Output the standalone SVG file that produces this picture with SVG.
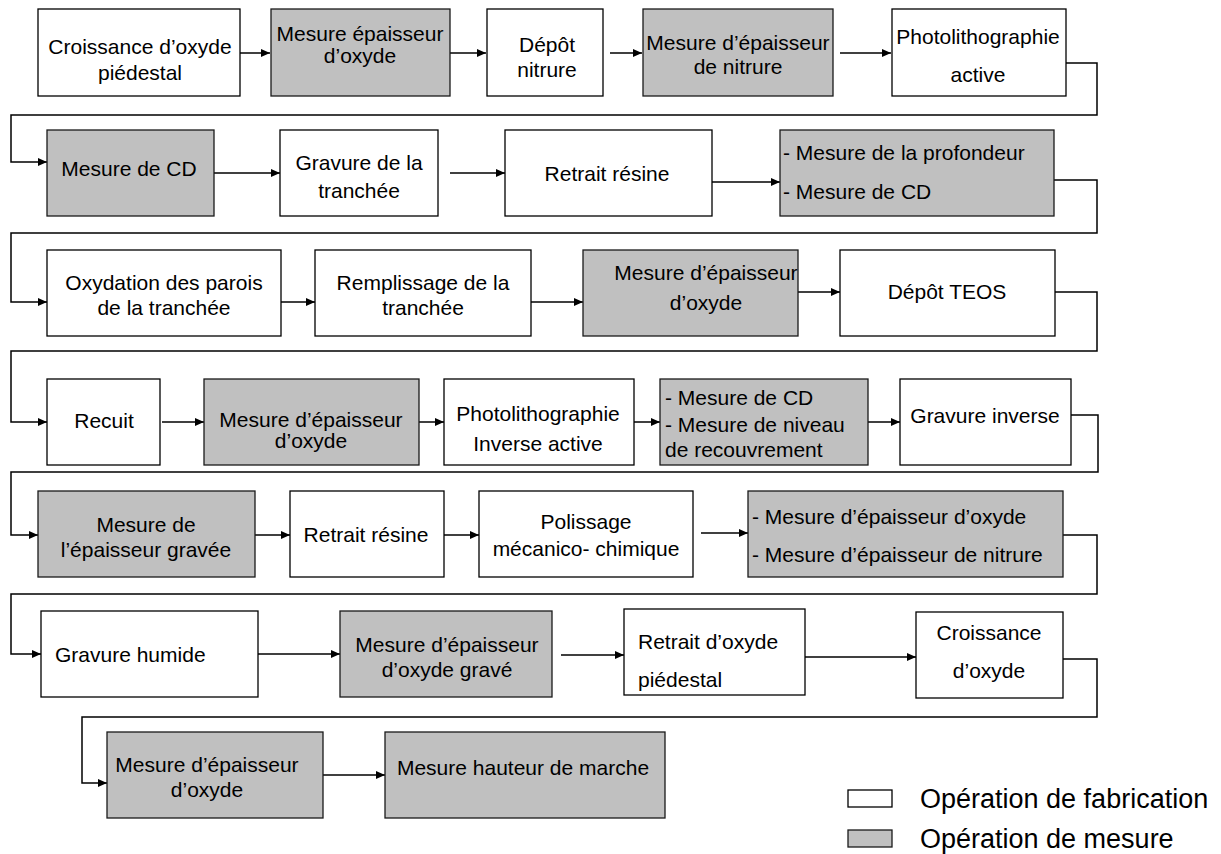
<svg xmlns="http://www.w3.org/2000/svg" width="1221" height="854" viewBox="0 0 1221 854">
  <defs>
    <style>
      .fab { fill: #ffffff; stroke: #000000; stroke-width: 1.3; }
      .mes { fill: #c0c0c0; stroke: #1a1a1a; stroke-width: 1.3; }
      text { font-family: "Liberation Sans", Arial, sans-serif; font-size: 21px; fill: #000000; }
      .c { text-anchor: middle; }
      .l { text-anchor: start; }
      .legend { font-size: 27px; }
      .link { fill: none; stroke: #000000; stroke-width: 1.5; marker-end: url(#ah); }
    </style>
    <marker id="ah" markerUnits="userSpaceOnUse" markerWidth="10" markerHeight="8" refX="9" refY="4" orient="auto">
      <path d="M0,0 L9,4 L0,8 z" fill="#000000"/>
    </marker>
  </defs>
  <rect width="1221" height="854" fill="#ffffff"/>

  <!-- connectors -->
  <g id="connectors">
    <!-- row 1 -->
    <path class="link" d="M240,53 H270"/>
    <path class="link" d="M450,53 H486"/>
    <path class="link" d="M610,53 H642"/>
    <path class="link" d="M840,53 H891"/>
    <path class="link" d="M1066,63 H1097 V115 H11 V162 H47"/>
    <!-- row 2 -->
    <path class="link" d="M214,173 H280"/>
    <path class="link" d="M450,173 H505"/>
    <path class="link" d="M712,182 H780"/>
    <path class="link" d="M1054,180 H1097 V233 H11 V302 H47"/>
    <!-- row 3 -->
    <path class="link" d="M281,302 H315"/>
    <path class="link" d="M531,302 H583"/>
    <path class="link" d="M798,292 H840"/>
    <path class="link" d="M1055,292 H1097 V351 H11 V422 H47"/>
    <!-- row 4 -->
    <path class="link" d="M162,422 H204"/>
    <path class="link" d="M419,422 H444"/>
    <path class="link" d="M634,422 H660"/>
    <path class="link" d="M868,422 H900"/>
    <path class="link" d="M1071,415 H1098 V472 H11 V535 H38"/>
    <!-- row 5 -->
    <path class="link" d="M255,535 H290"/>
    <path class="link" d="M444,535 H479"/>
    <path class="link" d="M701,533 H748"/>
    <path class="link" d="M1063,535 H1097 V594 H11 V654 H41"/>
    <!-- row 6 -->
    <path class="link" d="M258,654 H340"/>
    <path class="link" d="M561,655 H624"/>
    <path class="link" d="M805,657 H916"/>
    <path class="link" d="M1063,659 H1097 V717 H82 V783 H107"/>
    <!-- row 7 -->
    <path class="link" d="M323,775 H385"/>
  </g>

  <!-- row 1 -->
  <g id="n01"><rect class="fab" x="38" y="9" width="202" height="87"/>
    <text class="c" x="140" y="54">Croissance d’oxyde</text><text class="c" x="140" y="80">piédestal</text></g>
  <g id="n02"><rect class="mes" x="271" y="9" width="179" height="87"/>
    <text class="c" x="360" y="41">Mesure épaisseur</text><text class="c" x="360" y="63">d’oxyde</text></g>
  <g id="n03"><rect class="fab" x="487" y="9" width="116" height="87"/>
    <text class="c" x="547" y="52">Dépôt</text><text class="c" x="547" y="77">nitrure</text></g>
  <g id="n04"><rect class="mes" x="643" y="9" width="190" height="87"/>
    <text class="c" x="738" y="50">Mesure d’épaisseur</text><text class="c" x="738" y="74">de nitrure</text></g>
  <g id="n05"><rect class="fab" x="892" y="9" width="174" height="87"/>
    <text class="c" x="978" y="44">Photolithographie</text><text class="c" x="978" y="82">active</text></g>

  <!-- row 2 -->
  <g id="n06"><rect class="mes" x="47" y="130" width="167" height="86"/>
    <text class="c" x="129" y="176">Mesure de CD</text></g>
  <g id="n07"><rect class="fab" x="280" y="130" width="158" height="86"/>
    <text class="c" x="359" y="170">Gravure de la</text><text class="c" x="359" y="198">tranchée</text></g>
  <g id="n08"><rect class="fab" x="505" y="130" width="207" height="86"/>
    <text class="c" x="607" y="181">Retrait résine</text></g>
  <g id="n09"><rect class="mes" x="780" y="130" width="274" height="86"/>
    <text class="l" x="783" y="160">- Mesure de la profondeur</text><text class="l" x="783" y="199">- Mesure de CD</text></g>

  <!-- row 3 -->
  <g id="n10"><rect class="fab" x="47" y="250" width="234" height="86"/>
    <text class="c" x="164" y="290">Oxydation des parois</text><text class="c" x="164" y="315">de la tranchée</text></g>
  <g id="n11"><rect class="fab" x="315" y="250" width="216" height="86"/>
    <text class="c" x="423" y="290">Remplissage de la</text><text class="c" x="423" y="315">tranchée</text></g>
  <g id="n12"><rect class="mes" x="583" y="250" width="215" height="86"/>
    <text class="c" x="706" y="280">Mesure d’épaisseur</text><text class="c" x="706" y="310">d’oxyde</text></g>
  <g id="n13"><rect class="fab" x="840" y="250" width="215" height="86"/>
    <text class="c" x="947" y="299">Dépôt TEOS</text></g>

  <!-- row 4 -->
  <g id="n14"><rect class="fab" x="47" y="379" width="113" height="86"/>
    <text class="c" x="104" y="428">Recuit</text></g>
  <g id="n15"><rect class="mes" x="204" y="379" width="215" height="86"/>
    <text class="c" x="311" y="427">Mesure d’épaisseur</text><text class="c" x="311" y="448">d’oxyde</text></g>
  <g id="n16"><rect class="fab" x="444" y="379" width="190" height="86"/>
    <text class="c" x="538" y="421">Photolithographie</text><text class="c" x="538" y="451">Inverse active</text></g>
  <g id="n17"><rect class="mes" x="660" y="379" width="208" height="86"/>
    <text class="l" x="665" y="405">- Mesure de CD</text><text class="l" x="665" y="432">- Mesure de niveau</text><text class="l" x="665" y="457">de recouvrement</text></g>
  <g id="n18"><rect class="fab" x="900" y="379" width="171" height="86"/>
    <text class="c" x="985" y="423">Gravure inverse</text></g>

  <!-- row 5 -->
  <g id="n19"><rect class="mes" x="38" y="491" width="217" height="86"/>
    <text class="c" x="146" y="532">Mesure de</text><text class="c" x="146" y="557">l’épaisseur gravée</text></g>
  <g id="n20"><rect class="fab" x="290" y="491" width="154" height="86"/>
    <text class="c" x="366" y="542">Retrait résine</text></g>
  <g id="n21"><rect class="fab" x="479" y="491" width="214" height="86"/>
    <text class="c" x="586" y="529">Polissage</text><text class="c" x="586" y="556">mécanico- chimique</text></g>
  <g id="n22"><rect class="mes" x="748" y="491" width="315" height="86"/>
    <text class="l" x="752" y="524">- Mesure d’épaisseur d’oxyde</text><text class="l" x="752" y="562">- Mesure d’épaisseur de nitrure</text></g>

  <!-- row 6 -->
  <g id="n23"><rect class="fab" x="41" y="611" width="217" height="86"/>
    <text class="l" x="55" y="662">Gravure humide</text></g>
  <g id="n24"><rect class="mes" x="340" y="611" width="212" height="86"/>
    <text class="c" x="447" y="652">Mesure d’épaisseur</text><text class="c" x="447" y="677">d’oxyde gravé</text></g>
  <g id="n25"><rect class="fab" x="624" y="609" width="181" height="86"/>
    <text class="l" x="638" y="649">Retrait d’oxyde</text><text class="l" x="638" y="687">piédestal</text></g>
  <g id="n26"><rect class="fab" x="916" y="612" width="147" height="86"/>
    <text class="c" x="989" y="640">Croissance</text><text class="c" x="989" y="678">d’oxyde</text></g>

  <!-- row 7 -->
  <g id="n27"><rect class="mes" x="107" y="732" width="216" height="86"/>
    <text class="c" x="207" y="772">Mesure d’épaisseur</text><text class="c" x="207" y="797">d’oxyde</text></g>
  <g id="n28"><rect class="mes" x="385" y="732" width="280" height="86"/>
    <text class="c" x="523" y="775">Mesure hauteur de marche</text></g>

  <!-- legend -->
  <g id="legend">
    <rect class="fab" x="848" y="790" width="44" height="17"/>
    <text class="legend" x="920" y="808">Opération de fabrication</text>
    <rect class="mes" x="848" y="830" width="44" height="17"/>
    <text class="legend" x="920" y="848">Opération de mesure</text>
  </g>
</svg>
